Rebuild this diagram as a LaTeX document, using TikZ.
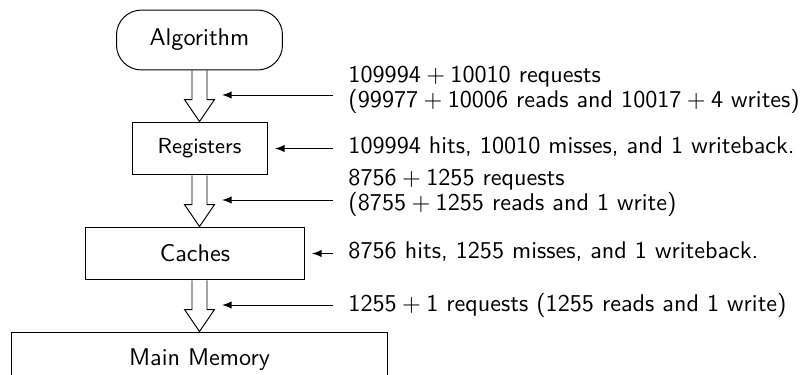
\documentclass[tikz,border=0pt]{standalone}
\usetikzlibrary{calc, arrows}

\tikzset{
  level/.style={draw, minimum height=21.9pt, inner sep=0pt},
  alg/.style={level, rounded corners=10.3pt, minimum width=68.7pt, minimum height=24.8pt},
  note/.style={anchor=west, align=left, inner xsep=6.2pt, inner ysep=0pt,
    font=\sffamily\fontsize{10pt}{8.7pt}\selectfont},
  block/.style={to path={let \p1=(\tikztostart), \p2=(\tikztotarget) in
    (\x1-3.1pt,\y1) -- (\x1-3.1pt,\y2+9.1pt) -- (\x1-6.2pt,\y2+9.1pt) -- (\x1,\y2)
    -- (\x1+6.2pt,\y2+9.1pt) -- (\x1+3.1pt,\y2+9.1pt) -- (\x1+3.1pt,\y1)}}
}

\begin{document}
\begin{tikzpicture}[x=0.414pt, y=-0.414pt, font=\sffamily]
                        \useasboundingbox (0,0) rectangle (805,374);
                        \clip (0,0) rectangle (805,374);
                        \node[alg] (alg) at (199.5,40) {Algorithm};
                        \node[level, minimum width=55.9pt] (reg) at (199.5,148.5) {\small Registers};
                        \node[level, minimum width=90.3pt] (cache) at (195,253.5) {Caches};
                        \node[level, minimum width=155.3pt, minimum height=23.2pt] (mem) at (199.5,360) {Main Memory};
                        \coordinate (m1) at (222,95);
                        \coordinate (m2) at (222,200);
                        \coordinate (m3) at (222,305);
                        \coordinate (r1) at (275,148.5);
                        \coordinate (r2) at (312,253.5);
                        \node[note] (req1) at (333,90) {109994${}+{}$10010 requests\\(99977${}+{}$10006 reads and 10017${}+{}$4 writes)};
                        \node[note] (hit1) at (333,147) {109994 hits, 10010 misses, and 1 writeback.};
                        \node[note] (req2) at (333,193) {8756${}+{}$1255 requests\\(8755${}+{}$1255 reads and 1 write)};
                        \node[note] (hit2) at (333,252) {8756 hits, 1255 misses, and 1 writeback.};
                        \node[note] (req3) at (333,305) {1255${}+{}$1 requests (1255 reads and 1 write)};
                        \draw
                        (alg.south) to[block] (reg.north)
                        (reg.south) to[block] (cache.north -| reg.south)
                        (cache.south -| mem.north) to[block] (mem.north);
                        \draw[-latex] (req1.west |- m1) -- (m1);
                        \draw[-latex] (req2.west |- m2) -- (m2);
                        \draw[-latex] (req3.west |- m3) -- (m3);
                        \draw[-latex] (hit1.west |- r1) -- (r1);
                        \draw[-latex] (hit2.west |- r2) -- (r2);
                    \end{tikzpicture}
\end{document}
